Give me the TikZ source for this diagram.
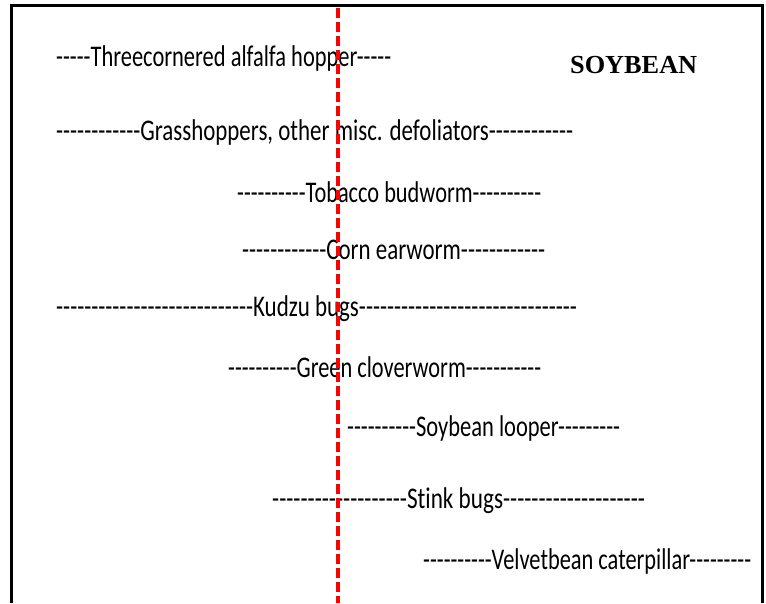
\documentclass[tikz,border=0pt]{standalone}
\usepackage{fontspec}
\newfontfamily\pestfont{Carlito}[Ligatures=NoCommon]
\newfontfamily\timesbf{Liberation Serif}
\usepackage{graphicx}
\tikzset{
  pest/.style={anchor=base west, inner sep=0pt, font=\pestfont\fontsize{30}{34}\selectfont},
  frameline/.style={line width=3pt, black},
  cutoff/.style={red, line width=3.8pt, dash pattern=on 10pt off 4pt}
}
\newcommand{\fitw}[2]{\resizebox{#1pt}{\height}{#2}}
\begin{document}
\begin{tikzpicture}[x=1pt,y=-1pt]
\useasboundingbox (0,0) rectangle (766,603);
\coordinate (fbl) at (11,603);
\coordinate (ftl) at (11,5.5);
\coordinate (ftr) at (762,5.5);
\coordinate (fbr) at (762,603);
\draw[frameline] (fbl) -- (ftl) -- (ftr) -- (fbr);
\node[pest] (p1) at (56,66) {\fitw{335}{-----Threecornered alfalfa hopper-----}};
\node[anchor=base west, inner sep=0pt, font=\timesbf\bfseries\fontsize{26}{30}\selectfont] (title) at (570,73) {\fitw{127}{SOYBEAN}};
\node[pest] (p2) at (56,140) {\fitw{517}{------------Grasshoppers, other misc. defoliators------------}};
\node[pest] (p3) at (237,202) {\fitw{304}{----------Tobacco budworm----------}};
\node[pest] (p4) at (242,259) {\fitw{303}{------------Corn earworm------------}};
\node[pest] (p5) at (56,316) {\fitw{521}{----------------------------Kudzu bugs-------------------------------}};
\node[pest] (p6) at (228,377) {\fitw{313}{----------Green cloverworm-----------}};
\node[pest] (p7) at (347,436) {\fitw{273}{----------Soybean looper---------}};
\node[pest] (p8) at (272,508) {\fitw{373}{-------------------Stink bugs--------------------}};
\node[pest] (p9) at (423,569) {\fitw{328}{----------Velvetbean caterpillar---------}};
\coordinate (rtop) at (338,8);
\coordinate (rbot) at (338,603);
\draw[cutoff] (rtop) -- (rbot);
\end{tikzpicture}
\end{document}
